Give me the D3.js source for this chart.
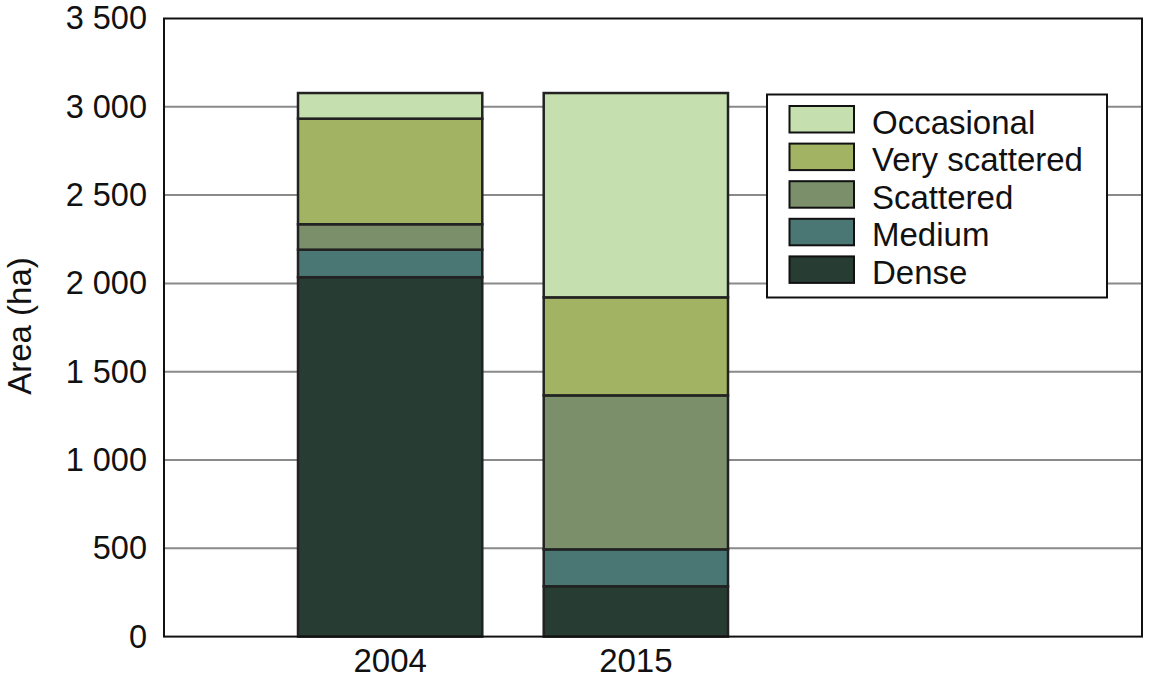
<!DOCTYPE html>
<html>
<head>
<meta charset="utf-8">
<script src="https://cdn.jsdelivr.net/npm/d3@7"></script>
<style>
  html, body { margin: 0; padding: 0; background: #fff; }
  svg { display: block; font-family: "Liberation Sans", Arial, sans-serif; }
</style>
</head>
<body>
<svg id="chart" width="1150" height="685"></svg>
<script>
const years = ["2004", "2015"];
const seriesNames = ["Dense", "Medium", "Scattered", "Very scattered", "Occasional"];
const dense = [2035, 285];
const medium = [156, 209];
const scattered = [144, 872];
const veryScattered = [598, 555];
const occasional = [145, 1157];
const yTicks = [0, 500, 1000, 1500, 2000, 2500, 3000, 3500];
const colors = ["#273d33", "#4a7774", "#7a8f6a", "#a2b363", "#c5e0ae"];

const seriesValues = [dense, medium, scattered, veryScattered, occasional];
const rows = years.map((yr, i) => {
  const r = { year: yr };
  seriesNames.forEach((s, j) => r[s] = seriesValues[j][i]);
  return r;
});

const svg = d3.select("#chart");
const pLeft = 164, pRight = 1142, pTop = 18.5, pBottom = 636.6;

const y = d3.scaleLinear().domain([0, 3500]).range([pBottom, pTop]);
const x = d3.scaleBand().domain(years).range([298, 728]).paddingInner(0.25).paddingOuter(0);
const color = d3.scaleOrdinal().domain(seriesNames).range(colors);

// gridlines
svg.append("g")
  .selectAll("line")
  .data(yTicks.filter(t => t > 0 && t < 3500))
  .join("line")
  .attr("x1", pLeft).attr("x2", pRight)
  .attr("y1", d => y(d)).attr("y2", d => y(d))
  .attr("stroke", "#8a8a8a").attr("stroke-width", 2);

// stacked bars
const stack = d3.stack().keys(seriesNames)(rows);
svg.append("g")
  .selectAll("g")
  .data(stack)
  .join("g")
  .attr("fill", d => color(d.key))
  .selectAll("rect")
  .data(d => d)
  .join("rect")
  .attr("x", d => x(d.data.year))
  .attr("width", x.bandwidth())
  .attr("y", d => y(d[1]))
  .attr("height", d => y(d[0]) - y(d[1]))
  .attr("stroke", "#222")
  .attr("stroke-width", 2.5);

// frame
svg.append("rect")
  .attr("x", pLeft).attr("y", pTop)
  .attr("width", pRight - pLeft).attr("height", pBottom - pTop)
  .attr("fill", "none").attr("stroke", "#111").attr("stroke-width", 2);

// y axis labels
const fmt = v => v >= 1000 ? d3.format(",")(v).replace(",", " ") : String(v);
const yAxis = d3.axisLeft(y).tickValues(yTicks).tickSize(0).tickPadding(17).tickFormat(fmt);
const ya = svg.append("g").attr("transform", `translate(${pLeft},0)`).call(yAxis);
ya.select(".domain").remove();
ya.selectAll("text").attr("font-size", 32.5).attr("fill", "#111")
  .attr("font-family", "Liberation Sans, Arial, sans-serif");

// x axis labels
const xAxis = d3.axisBottom(x).tickSize(0).tickPadding(12);
const xa = svg.append("g").attr("transform", `translate(0,${pBottom})`).call(xAxis);
xa.select(".domain").remove();
xa.selectAll("text").attr("font-size", 33).attr("fill", "#111")
  .attr("font-family", "Liberation Sans, Arial, sans-serif");

// y title
svg.append("text")
  .attr("transform", `translate(31,326) rotate(-90)`)
  .attr("text-anchor", "middle")
  .attr("font-size", 33).attr("fill", "#111")
  .text("Area (ha)");

// legend
const lg = svg.append("g");
lg.append("rect")
  .attr("x", 767).attr("y", 94.5).attr("width", 340).attr("height", 203)
  .attr("fill", "#fff").attr("stroke", "#111").attr("stroke-width", 2);
const legendOrder = seriesNames.slice().reverse();
const li = lg.selectAll("g.item").data(legendOrder).join("g").attr("class", "item")
  .attr("transform", (d, i) => `translate(0,${106 + i * 37.6})`);
li.append("rect")
  .attr("x", 789.5).attr("y", 0).attr("width", 64.5).attr("height", 26.5)
  .attr("fill", d => color(d)).attr("stroke", "#111").attr("stroke-width", 2);
li.append("text")
  .attr("x", 872).attr("y", 27.5)
  .attr("font-size", 33).attr("fill", "#111")
  .text(d => d);
</script>
</body>
</html>
